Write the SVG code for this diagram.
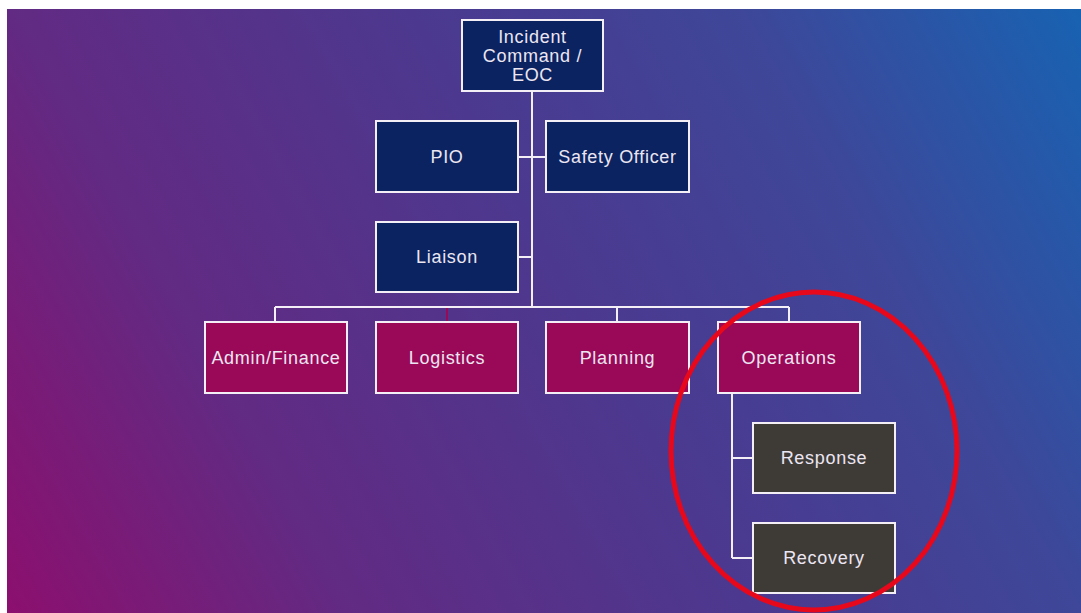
<svg xmlns="http://www.w3.org/2000/svg" width="1081" height="613" viewBox="0 0 1081 613">
<defs>
<linearGradient id="bg" gradientUnits="userSpaceOnUse" x1="7" y1="613" x2="1081" y2="9">
<stop offset="0" stop-color="#8c0f6e"/>
<stop offset="0.24" stop-color="#622a83"/>
<stop offset="0.55" stop-color="#4a3a90"/>
<stop offset="0.76" stop-color="#3e4799"/>
<stop offset="1" stop-color="#1862b2"/>
</linearGradient>
<style>
.box{stroke:#f4eef6;stroke-width:2}
.navy{fill:#0b2360}
.mag{fill:#9a0858}
.gray{fill:#3e3b37}
.lbl{font-family:"Century Gothic","URW Gothic","Liberation Sans",sans-serif;font-size:18px;letter-spacing:0.7px;fill:#ece6f2;text-anchor:middle;dominant-baseline:central}
.ln{stroke:#f4eef6;stroke-width:2;fill:none}
</style>
</defs>
<rect x="0" y="0" width="1081" height="613" fill="#ffffff"/>
<rect x="7" y="9" width="1074" height="604" fill="url(#bg)"/>
<g id="connectors">
<path class="ln" d="M532 91 V307 M518 157 H546 M518 257 H532 M275 307 H789 M275 307 V322 M617 307 V322 M789 307 V322 M732 393 V558 M732 458 H753 M732 558 H753"/>
<path d="M447 308 V322" stroke="#9a0858" stroke-width="2"/>
</g>
<g id="incident-command"><rect class="box navy" x="462" y="20" width="141" height="71"/><text class="lbl" x="532.5" y="55.5"><tspan x="532.5" dy="-19">Incident</tspan><tspan x="532.5" dy="19">Command /</tspan><tspan x="532.5" dy="19">EOC</tspan></text></g>
<g id="pio"><rect class="box navy" x="376" y="121" width="142" height="71"/><text class="lbl" x="447" y="157">PIO</text></g>
<g id="safety-officer"><rect class="box navy" x="546" y="121" width="143" height="71"/><text class="lbl" x="617.5" y="157">Safety Officer</text></g>
<g id="liaison"><rect class="box navy" x="376" y="222" width="142" height="70"/><text class="lbl" x="447" y="257">Liaison</text></g>
<g id="admin-finance"><rect class="box mag" x="205" y="322" width="142" height="71"/><text class="lbl" x="276" y="357.5">Admin/Finance</text></g>
<g id="logistics"><rect class="box mag" x="376" y="322" width="142" height="71"/><text class="lbl" x="447" y="357.5">Logistics</text></g>
<g id="planning"><rect class="box mag" x="546" y="322" width="143" height="71"/><text class="lbl" x="617.5" y="357.5">Planning</text></g>
<g id="operations"><rect class="box mag" x="718" y="322" width="142" height="71"/><text class="lbl" x="789" y="357.5">Operations</text></g>
<g id="response"><rect class="box gray" x="753" y="423" width="142" height="70"/><text class="lbl" x="824" y="458">Response</text></g>
<g id="recovery"><rect class="box gray" x="753" y="523" width="142" height="70"/><text class="lbl" x="824" y="558">Recovery</text></g>
<ellipse cx="814" cy="451" rx="143" ry="159" fill="none" stroke="#e8081c" stroke-width="5"/>
</svg>
